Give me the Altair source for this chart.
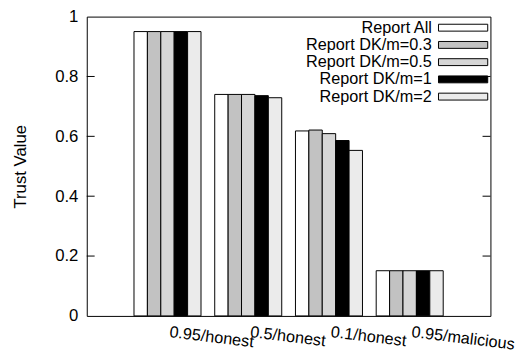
import altair as alt
import pandas as pd

categories = ["0.95/honest", "0.5/honest", "0.1/honest", "0.95/malicious"]
series = ["Report All", "Report DK/m=0.3", "Report DK/m=0.5", "Report DK/m=1", "Report DK/m=2"]
report_all = [0.95, 0.74, 0.618, 0.151]
report_dk03 = [0.95, 0.74, 0.621, 0.151]
report_dk05 = [0.95, 0.74, 0.609, 0.151]
report_dk1 = [0.95, 0.736, 0.586, 0.151]
report_dk2 = [0.95, 0.729, 0.553, 0.151]
fills = ["#ffffff", "#c2c2c2", "#d6d6d6", "#000000", "#ebebeb"]
y_ticks = [0, 0.2, 0.4, 0.6, 0.8, 1]

values = [report_all, report_dk03, report_dk05, report_dk1, report_dk2]
rows = []
for s, vals in zip(series, values):
    for c, v in zip(categories, vals):
        rows.append({"category": c, "series": s, "value": v})
df = pd.DataFrame(rows)

FONT = "Liberation Sans"

y_scale = alt.Scale(domain=[0, 1], nice=False)
y_axis = alt.Axis(
    values=y_ticks, format="~g", grid=False, ticks=False, domain=False,
    title="Trust Value", titleFontSize=17, titleFont=FONT, titleFontWeight="normal",
    titleColor="black", titlePadding=26, labelFontSize=17, labelFont=FONT,
    labelColor="black", labelPadding=9,
)

bars = alt.Chart(df).mark_bar(stroke="black", strokeWidth=1, opacity=1).encode(
    x=alt.X(
        "category:N",
        sort=categories,
        scale=alt.Scale(paddingInner=0.17, paddingOuter=0.585),
        axis=alt.Axis(
            title=None, labelAngle=7, labelAlign="left", labelBaseline="top",
            ticks=False, domain=False, labelPadding=8, labelFontSize=16.5,
            labelFont=FONT, labelColor="black", labelOverlap=False, labelLimit=300,
            labelOffset=3,
        ),
    ),
    xOffset=alt.XOffset("series:N", sort=series, scale=alt.Scale(paddingInner=0, paddingOuter=0)),
    y=alt.Y("value:Q", scale=y_scale, axis=y_axis, title="Trust Value"),
    fill=alt.Fill(
        "series:N",
        sort=series,
        scale=alt.Scale(domain=series, range=fills),
        legend=alt.Legend(
            title=None, orient="none", legendX=374, legendY=3, padding=0,
            symbolType="M-5,-0.7H5V0.7H-5Z", symbolSize=100,
            symbolStrokeColor="black", symbolStrokeWidth=1, symbolOpacity=1,
            labelAlign="right", labelOffset={"expr": "-40"}, labelFontSize=16.5, labelFont=FONT,
            labelColor="black", labelLimit=300, rowPadding=0.5,
        ),
    ),
)

tick_df = pd.DataFrame({"t": y_ticks[1:-1]})
left_ticks = alt.Chart(tick_df).mark_rule(color="black", strokeWidth=1).encode(
    y=alt.Y("t:Q", scale=y_scale, axis=y_axis, title="Trust Value"), x=alt.value(0), x2=alt.value(8)
)
right_ticks = alt.Chart(tick_df).mark_rule(color="black", strokeWidth=1).encode(
    y=alt.Y("t:Q", scale=y_scale, axis=y_axis, title="Trust Value"), x=alt.value(402), x2=alt.value(410)
)

chart = alt.layer(bars, left_ticks, right_ticks).properties(
    width=410, height=304,
    autosize=alt.AutoSizeParams(type="none"),
    padding={"left": 80, "top": 6, "right": 28, "bottom": 40},
    background="white",
).configure_view(stroke="black", strokeWidth=1)

chart.save("out.html", embed_options={"renderer": "svg", "actions": False})
